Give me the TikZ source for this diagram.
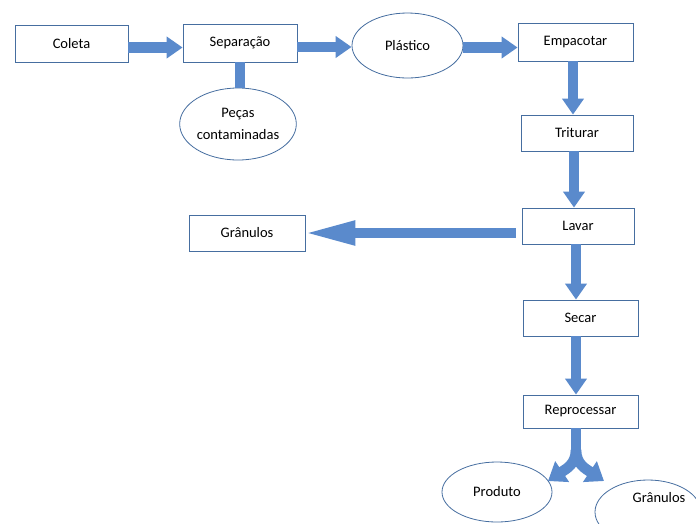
\documentclass[tikz,border=0pt]{standalone}
\usepackage{fontspec}
\setmainfont{Carlito}
\usetikzlibrary{arrows.meta,shapes.geometric}
\definecolor{arrowblue}{RGB}{90,138,204}
\definecolor{boxline}{RGB}{70,110,160}
\tikzset{
  box/.style={draw=boxline, line width=0.8pt, fill=white, rectangle, inner sep=0pt, font=\fontsize{14.5}{17}\selectfont},
  oval/.style={draw=boxline, line width=0.8pt, fill=white, ellipse, inner sep=0pt, font=\fontsize{14.5}{17}\selectfont},
  fat/.style={draw=arrowblue, line width=10.5pt, -{Triangle[length=16pt,width=21pt]}},
  stem/.style={draw=arrowblue, line width=10.5pt},
}
\begin{document}
\begin{tikzpicture}[x=1pt,y=-1pt]
\clip (0,0) rectangle (696,523);
\fill[white] (0,0) rectangle (696,523);
% nodes
\node[box, minimum width=113pt, minimum height=37pt] (col) at (71.5,43.5) {Coleta};
\node[box, minimum width=114pt, minimum height=38pt] (sep) at (240,43) {Separação};
\node[oval, minimum width=115pt, minimum height=72pt, align=center, font=\fontsize{14.5}{22}\selectfont] (pec) at (238,124) {Peças\\contaminadas};
\node[oval, minimum width=111pt, minimum height=65pt] (pla) at (407.5,45.5) {Plástico};
\node[box, minimum width=115pt, minimum height=38pt] (emp) at (575.5,42) {Empacotar};
\node[box, minimum width=112pt, minimum height=36pt] (tri) at (577,133) {Triturar};
\node[box, minimum width=112pt, minimum height=36pt] (lav) at (578,226) {Lavar};
\node[box, minimum width=116pt, minimum height=36pt] (gra) at (247,233) {Grânulos};
\node[box, minimum width=115pt, minimum height=36pt] (sec) at (580.5,318) {Secar};
\node[box, minimum width=115pt, minimum height=33pt] (rep) at (580.5,411.5) {Reprocessar};
\node[oval, minimum width=110pt, minimum height=60pt] (pro) at (497,492) {Produto};
\node[oval, minimum width=106pt, minimum height=64pt] (gr2) at (648,512) {};
\node[font=\fontsize{14.5}{17}\selectfont] (gr2t) at (659,498) {Grânulos};
% connectors
\coordinate (a1) at ([yshift=-4pt]col.east);
\draw[fat] (a1) -- (a1 -| sep.west);
\coordinate (a2) at ([yshift=-4pt]sep.east);
\draw[fat] (a2) -- (a2 -| pla.west);
\draw[stem] (sep.south) -- (sep.south |- pec.north);
\coordinate (a3) at ([yshift=-2pt]pla.east);
\draw[fat] (a3) -- (a3 -| emp.west);
\coordinate (a4) at ([xshift=-2.5pt]emp.south);
\draw[fat] (a4) -- (a4 |- tri.north);
\coordinate (a5) at ([xshift=-3pt]tri.south);
\draw[fat] (a5) -- (a5 |- lav.north);
\coordinate (a6) at ([xshift=-2pt]lav.south);
\draw[fat] (a6) -- (a6 |- sec.north);
\coordinate (a7) at ([xshift=-4.5pt]sec.south);
\draw[fat] (a7) -- (a7 |- rep.north);
\coordinate (a8) at ([xshift=-6pt]lav.west |- gra.east);
\draw[fat, -{Triangle[length=53pt,width=22pt]}] (a8) -- ([xshift=-3pt]gra.east);
% split arrow
\coordinate (s0) at ([xshift=-4.5pt]rep.south);
\coordinate (s1) at (576,450);
\draw[stem] (s0) -- (s1);
\draw[fat, -{Triangle[length=17pt,width=24pt]}] (s1) .. controls (576,464) and (566,469) .. (548,481);
\draw[fat, -{Triangle[length=17pt,width=24pt]}] (s1) .. controls (576,464) and (586,469) .. (604,481);
\end{tikzpicture}
\end{document}
